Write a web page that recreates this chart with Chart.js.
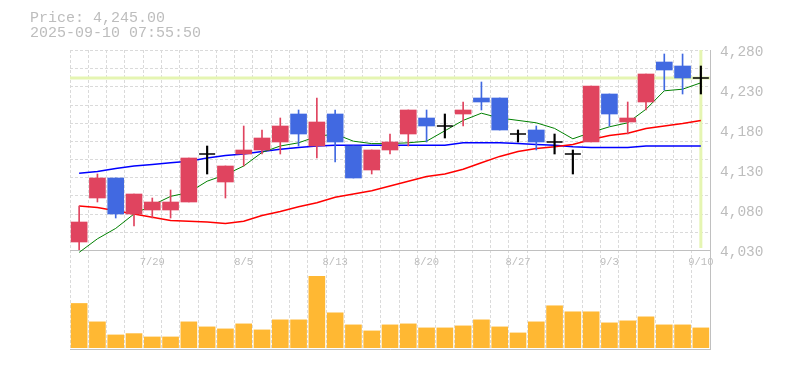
<!DOCTYPE html>
<html>
<head>
<meta charset="utf-8">
<script src="https://cdn.jsdelivr.net/npm/chart.js@4.4.1/dist/chart.umd.min.js"></script>
<style>
body{margin:0;background:#fff;}
#wrap{position:relative;width:785px;height:370px;}
#info{position:absolute;left:30px;top:12px;font:15px "Liberation Mono",monospace;line-height:14.5px;color:#bdbdbd;white-space:pre;}
canvas{position:absolute;left:0;top:0;}
</style>
</head>
<body>
<div id="wrap">
<canvas id="stockChart" width="785" height="370"></canvas>
<div id="info">Price: 4,245.00
2025-09-10 07:55:50</div>
</div>
<script>

/* =====================
   Data
===================== */

const dates=["7/23","7/24","7/25","7/28","7/29","7/30","7/31","8/1","8/4","8/5","8/6","8/7","8/8","8/12","8/13","8/14","8/15","8/18","8/19","8/20","8/21","8/22","8/25","8/26","8/27","8/28","8/29","9/1","9/2","9/3","9/4","9/5","9/8","9/9","9/10"];

const xTickLabels=["7/29","8/5","8/13","8/20","8/27","9/3","9/10"];

const yTicks=[4030,4080,4130,4180,4230,4280];

const opens =[4040,4095,4120,4075,4080,4080,4090,4150,4115,4150,4155,4165,4200,4160,4200,4160,4130,4155,4175,4195,4185,4200,4220,4220,4175,4180,4165,4150,4165,4225,4190,4215,4265,4260,4245];
const highs =[4085,4125,4120,4100,4095,4105,4145,4160,4135,4185,4180,4195,4205,4220,4205,4160,4155,4175,4205,4205,4200,4215,4240,4220,4180,4185,4175,4155,4235,4225,4215,4250,4275,4275,4260];
const lows  =[4030,4090,4070,4060,4070,4070,4090,4125,4095,4135,4150,4150,4160,4145,4140,4120,4125,4150,4160,4165,4170,4185,4205,4180,4165,4155,4150,4125,4165,4185,4175,4205,4230,4225,4225];
const closes=[4065,4120,4075,4100,4090,4090,4145,4150,4135,4155,4170,4185,4175,4190,4165,4120,4155,4165,4205,4185,4185,4205,4215,4180,4175,4165,4165,4150,4235,4200,4195,4250,4255,4245,4245];

const ma5 =[4027,4044,4057,4075,4086,4097,4102,4116,4124,4135,4152,4160,4164,4172,4175,4166,4163,4163,4164,4166,4179,4192,4201,4195,4192,4189,4182,4169,4177,4184,4189,4206,4229,4231,4239];
const ma25=[4085,4083,4079,4075,4071,4067,4066,4065,4063,4066,4073,4078,4084,4089,4096,4100,4104,4110,4116,4122,4125,4131,4139,4147,4153,4157,4159,4162,4168,4173,4176,4182,4185,4188,4192];
const ma75=[4126,4128,4132,4135,4137,4139,4141,4145,4148,4150,4153,4156,4158,4160,4161,4161,4161,4161,4161,4161,4161,4164,4164,4164,4163,4162,4161,4159,4158,4158,4158,4160,4160,4160,4160];

const volumes=[440,257,127,140,107,107,257,207,187,237,177,277,277,710,347,227,167,227,237,197,197,217,277,207,147,257,417,357,357,247,267,307,227,227,197];



/* =====================
   Colours
===================== */

const UP="#e0445f";
const DOWN="#4169e1";
const DOJI="#000000";
const GRID="#dadada";
const AXIS="#c0c0c0";
const TEXT="#bdbdbd";

function candleColor(i){
if(closes[i]>opens[i]) return UP;
if(closes[i]<opens[i]) return DOWN;
return DOJI;
}

const isDoji=i=>opens[i]===closes[i];

const bodies=dates.map((d,i)=>isDoji(i)?null:[opens[i],closes[i]]);
const wicks=dates.map((d,i)=>isDoji(i)?null:[lows[i],highs[i]]);
const dojiWicks=dates.map((d,i)=>isDoji(i)?[lows[i],highs[i]]:null);
const dojiMarks=dates.map((d,i)=>isDoji(i)?closes[i]:null);



/* =====================
   Grid + highlight plugin
===================== */

const priceGrid={
id:"priceGrid",
beforeDatasetsDraw(chart){
const {ctx,chartArea,scales}=chart;
const y=scales.y;
const x=scales.x;
ctx.save();
ctx.strokeStyle=GRID;
ctx.lineWidth=1;
ctx.setLineDash([3,2]);
for(let k=1;k<=11;k++){
const py=Math.round(y.getPixelForValue(y.min+k*(y.max-y.min)/11))+0.5;
ctx.beginPath();
ctx.moveTo(chartArea.left,py);
ctx.lineTo(chartArea.right,py);
ctx.stroke();
}
ctx.setLineDash([]);
ctx.strokeStyle="#e5f5b2";
ctx.lineWidth=3;
const last=closes.length-1;
const hy=y.getPixelForValue(closes[last]);
ctx.beginPath();
ctx.moveTo(chartArea.left,hy);
ctx.lineTo(chartArea.right,hy);
ctx.stroke();
const hx=x.getPixelForValue(last);
ctx.beginPath();
ctx.moveTo(hx,y.top);
ctx.lineTo(hx,y.bottom-2);
ctx.stroke();
ctx.restore();
}
};



/* =====================
   Chart
===================== */

const ctx=document.getElementById("stockChart").getContext("2d");

const stockChart=new Chart(ctx,{

type:"bar",

data:{
labels:dates,
datasets:[
{
type:"line",
data:dojiMarks,
yAxisID:"y",
showLine:false,
pointStyle:"line",
pointRadius:8,
pointBorderWidth:1.5,
pointBorderColor:DOJI,
order:0
},
{
data:dojiWicks,
yAxisID:"y",
backgroundColor:DOJI,
barThickness:1.5,
grouped:false,
order:1
},
{
data:bodies,
yAxisID:"y",
backgroundColor:c=>candleColor(c.dataIndex),
barThickness:16,
grouped:false,
order:2
},
{
data:wicks,
yAxisID:"y",
backgroundColor:c=>candleColor(c.dataIndex),
barThickness:1,
grouped:false,
order:3
},
{
type:"line",
data:ma5,
yAxisID:"y",
borderColor:"#008000",
borderWidth:1,
pointRadius:0,
tension:0,
clip:false,
order:4
},
{
type:"line",
data:ma25,
yAxisID:"y",
borderColor:"#ff0000",
borderWidth:1.5,
pointRadius:0,
tension:0,
order:5
},
{
type:"line",
data:ma75,
yAxisID:"y",
borderColor:"#0000ff",
borderWidth:1.5,
pointRadius:0,
tension:0,
order:6
},
{
data:volumes,
yAxisID:"yv",
backgroundColor:"#ffb833",
barThickness:16,
grouped:false,
order:7
}
]
},

options:{
responsive:false,
animation:false,
events:[],
layout:{padding:{left:70,top:50,right:0,bottom:0}},
plugins:{legend:{display:false},tooltip:{enabled:false}},
scales:{
x:{
type:"category",
position:"bottom",
offset:true,
grid:{color:GRID,offset:true,drawTicks:false},
border:{color:AXIS,width:1,dash:[3,2]},
ticks:{display:false},
afterFit:s=>{s.height=21;}
},
xl:{
type:"category",
position:{y:4030},
offset:true,
grid:{display:false,drawTicks:false},
border:{color:AXIS,width:1},
ticks:{
autoSkip:false,
maxRotation:0,
padding:6,
color:TEXT,
font:{family:"Liberation Mono",size:10.5},
callback:function(v,i){
return xTickLabels.includes(dates[i])?dates[i]:"";
}
}
},
y:{
type:"linear",
position:"right",
stack:"main",
stackWeight:200,
weight:0,
min:yTicks[0],
max:yTicks[yTicks.length-1],
grid:{display:false,drawTicks:false},
border:{color:AXIS,width:1},
afterBuildTicks:s=>{s.ticks=yTicks.map(v=>({value:v}));},
ticks:{
padding:10,
labelOffset:2.5,
color:TEXT,
font:{family:"Liberation Mono",size:14.5},
callback:v=>v.toLocaleString("en-US")
},
afterFit:s=>{s.width=75;}
},
yv:{
type:"linear",
position:"right",
stack:"main",
stackWeight:99,
weight:1,
min:-13,
max:972,
grid:{display:false,drawTicks:false},
border:{color:AXIS,width:1},
ticks:{display:false},
afterFit:s=>{s.width=75;}
}
}
},

plugins:[priceGrid]

});

</script>
</body>
</html>
